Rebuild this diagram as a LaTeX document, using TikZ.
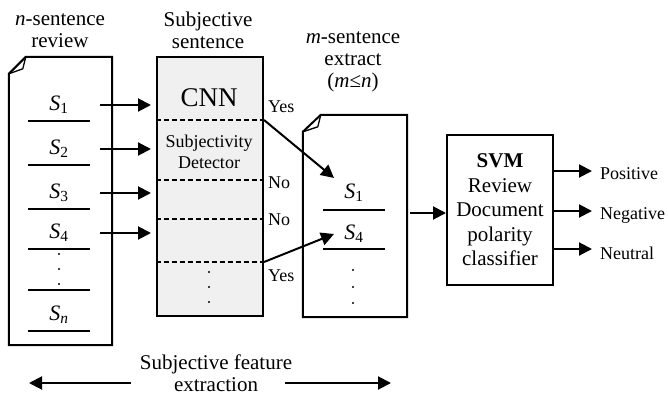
\documentclass[tikz,border=0pt]{standalone}
\usepackage{fontspec}
\setmainfont{Liberation Serif}
\usetikzlibrary{arrows.meta,positioning}
\definecolor{detectgray}{RGB}{240,240,240}

\begin{document}
\begin{tikzpicture}[x=1pt,y=-1pt,
    title/.style={align=center, inner sep=0pt, font=\fontsize{21}{22}\selectfont},
    tag/.style={anchor=west, inner sep=0pt, font=\fontsize{18}{20}\selectfont},
    sent/.style={inner sep=0pt, minimum width=62pt, minimum height=31pt, font=\fontsize{22}{22}\selectfont},
    page/.style={line width=2pt, line join=miter},
    rule/.style={line width=2pt},
    sep/.style={line width=1.5pt, dash pattern=on 5pt off 3pt},
    arrow/.style={-{Triangle[length=13pt,width=13pt]}, line width=2pt},
    dot/.style={circle, fill, inner sep=0pt, minimum size=2.2pt}
  ]
    \useasboundingbox (0,0) rectangle (668,396);

    % n-sentence review page
    \node[inner sep=0pt, minimum width=103pt, minimum height=288pt] (review) at (60.5,201) {};
    \draw[page] ([xshift=17pt]review.north west) -- (review.north east) -- (review.south east)
      -- (review.south west) -- ([yshift=-17pt]review.north west) -- cycle;
    \draw[line width=1.3pt, line join=round] ([xshift=17pt]review.north west) -- ([xshift=14pt,yshift=-12pt]review.north west)
      -- ([yshift=-17pt]review.north west);
    \node[title] (revtitle) at (60,31) {\textit{n}-sentence\\review};

    \node[sent] (s1) at (59,105) {\textit{S}\textsubscript{1}};
    \node[sent] (s2) at (59,149) {\textit{S}\textsubscript{2}};
    \node[sent] (s3) at (59,193) {\textit{S}\textsubscript{3}};
    \node[sent] (s4) at (59,233) {\textit{S}\textsubscript{4}};
    \node[sent] (sn) at (59,315) {\textit{S}\textsubscript{\textit{n}}};
    \foreach \s in {s1,s2,s3,s4,sn}
      \draw[rule] (\s.south west) -- (\s.south east);
    \draw[rule] (s4.south west |- 0,290) -- (s4.south east |- 0,290);
    \foreach \y in {254,269,284}
      \node[dot] at (59,\y) {};

    % subjectivity detector
    \node[draw, line width=2pt, fill=detectgray, inner sep=0pt, minimum width=106pt, minimum height=259pt] (subj) at (210,186.5) {};
    \node[title] (subjtitle) at (208,30) {Subjective\\sentence};
    \node[inner sep=0pt, font=\fontsize{27}{28}\selectfont] (cnn) at (209,98) {CNN};
    \node[align=center, inner sep=0pt, font=\fontsize{18}{21}\selectfont] (detector) at (209,152) {Subjectivity\\Detector};
    \draw[sep] (subj.west |- 0,120) -- (subj.east |- 0,120) coordinate (yes1);
    \draw[sep] (subj.west |- 0,180) -- (subj.east |- 0,180) coordinate (no1);
    \draw[sep] (subj.west |- 0,219) -- (subj.east |- 0,219) coordinate (no2);
    \draw[sep] (subj.west |- 0,262) -- (subj.east |- 0,262) coordinate (yes2);
    \foreach \y in {272,287,302}
      \node[dot] at (209,\y) {};

    \node[tag] (tyes1) at (268,107) {Yes};
    \node[tag] (tno1) at (268,183) {No};
    \node[tag] (tno2) at (268,220) {No};
    \node[tag] (tyes2) at (268,276) {Yes};

    \foreach \s in {s1,s2,s3,s4}
      \draw[arrow] ([xshift=10pt]\s.east) -- ([xshift=-5pt]\s.east -| subj.west);

    % m-sentence extract page
    \node[inner sep=0pt, minimum width=104pt, minimum height=202pt] (extract) at (355,216) {};
    \draw[page] ([xshift=18pt]extract.north west) -- (extract.north east) -- (extract.south east)
      -- (extract.south west) -- ([yshift=-17pt]extract.north west) -- cycle;
    \draw[line width=1.3pt, line join=round] ([xshift=18pt]extract.north west) -- ([xshift=15pt,yshift=-12pt]extract.north west)
      -- ([yshift=-17pt]extract.north west);
    \node[title] (extitle) at (353,62) {\textit{m}-sentence\\extract\\(\textit{m}≤\textit{n})};

    \node[sent] (e1) at (354,193) {\textit{S}\textsubscript{1}};
    \node[sent] (e4) at (354,234) {\textit{S}\textsubscript{4}};
    \draw[rule] ([yshift=-1pt]e1.south west) -- ([yshift=-1pt]e1.south east);
    \draw[rule] ([yshift=1pt]e4.south west) -- ([yshift=1pt]e4.south east);
    \foreach \y in {270,287,303}
      \node[dot] at (353,\y) {};

    \coordinate (in1) at (334,178);
    \coordinate (in4) at (334,234);
    \draw[arrow] (yes1) -- (in1);
    \draw[arrow] (yes2) -- (in4);

    % polarity classifier
    \node[draw, line width=2pt, inner sep=0pt, minimum width=106pt, minimum height=150pt,
      align=center, font=\fontsize{21}{24.5}\selectfont] (svm) at (500,210) {\textbf{SVM}\\Review\\Document\\polarity\\classifier};
    \draw[arrow] ([xshift=3pt]extract.east |- 0,213) -- (svm.west |- 0,213);

    \node[tag] (pos) at (600,174) {Positive};
    \node[tag] (neg) at (600,215) {Negative};
    \node[tag] (neu) at (600,253) {Neutral};
    \draw[arrow] (svm.east |- 0,171) -- (592,171);
    \draw[arrow] (svm.east |- 0,211) -- (592,211);
    \draw[arrow] (svm.east |- 0,249) -- (592,249);

    % feature extraction span
    \node[title] (span) at (216,373) {Subjective feature\\extraction};
    \coordinate (spanl) at (29,383);
    \coordinate (spanr) at (391,383);
    \draw[arrow] (span.west |- spanl) ++(-9pt,0) -- (spanl);
    \draw[arrow] (span.east |- spanr) ++(-7pt,0) -- (spanr);
  \end{tikzpicture}
\end{document}
